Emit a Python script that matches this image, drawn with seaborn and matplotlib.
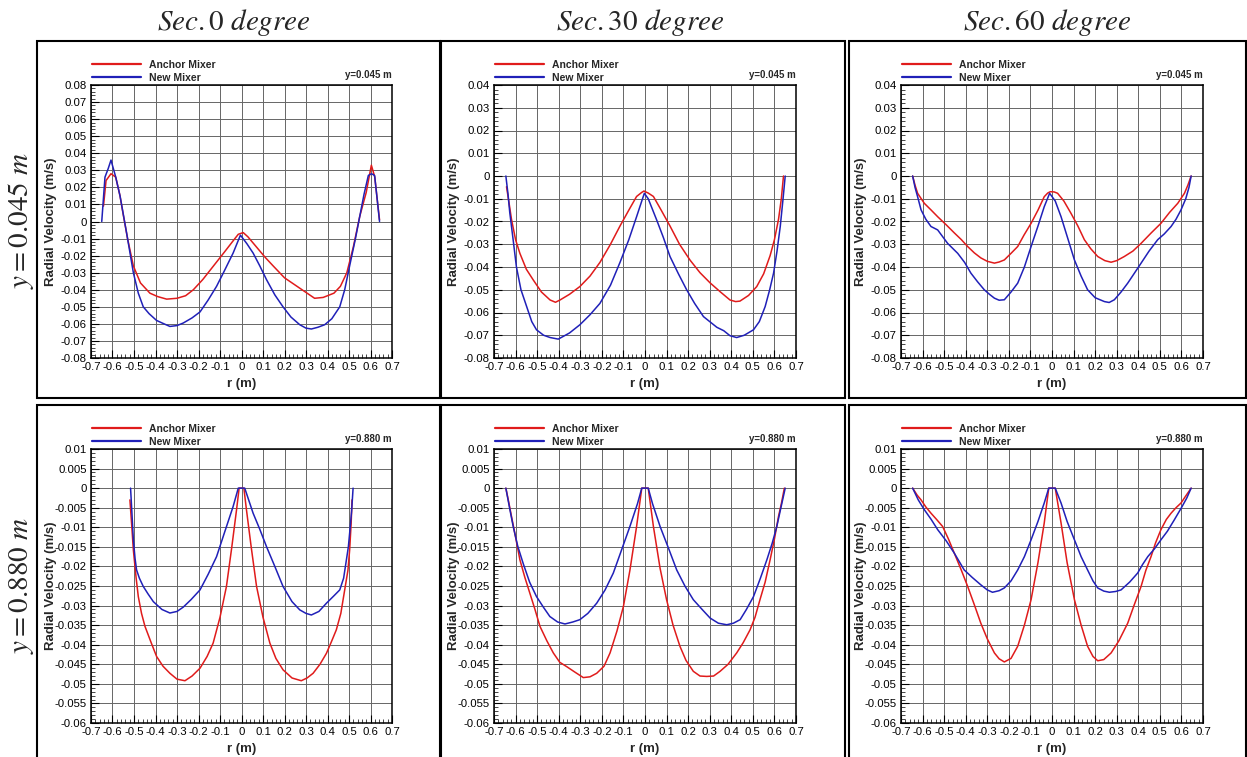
import numpy as np
import matplotlib
matplotlib.use('Agg')
import matplotlib.pyplot as plt
from matplotlib.patches import Rectangle
from matplotlib.ticker import MultipleLocator, FuncFormatter
import seaborn as sns

# ---------------------------------------------------------------------------
# Data (radial velocity profiles, m/s vs r, m)
# Row 1: y = 0.045 m, Row 2: y = 0.880 m ; columns: Sec. 0 / 30 / 60 degree
# ---------------------------------------------------------------------------

# Sec 0, y=0.045
r_anchor_s0_045 = [-0.642, -0.63, -0.607, -0.585, -0.565, -0.55, -0.53, -0.503, -0.47, -0.426, -0.39, -0.348, -0.3,
                   -0.26, -0.224, -0.18, -0.13, -0.08, -0.04, -0.015, 0.008, 0.03, 0.07, 0.11, 0.147, 0.2, 0.27,
                   0.34, 0.38, 0.43, 0.46, 0.49, 0.52, 0.55, 0.58, 0.604, 0.62, 0.632, 0.642]
v_anchor_s0_045 = [0.009, 0.024, 0.028, 0.026, 0.015, 0.004, -0.01, -0.026, -0.036, -0.042, -0.044, -0.0455, -0.045,
                   -0.0435, -0.040, -0.034, -0.026, -0.018, -0.0115, -0.0075, -0.0065, -0.009, -0.015, -0.021,
                   -0.026, -0.033, -0.039, -0.045, -0.0445, -0.042, -0.038, -0.030, -0.015, 0.003, 0.017, 0.033,
                   0.026, 0.012, 0.001]
r_new_s0_045 = [-0.65, -0.635, -0.62, -0.607, -0.585, -0.565, -0.534, -0.503, -0.48, -0.457, -0.43, -0.395, -0.36,
                -0.333, -0.3, -0.271, -0.23, -0.193, -0.155, -0.116, -0.08, -0.039, -0.005, 0.025, 0.054, 0.085,
                0.116, 0.155, 0.193, 0.23, 0.271, 0.3, 0.325, 0.355, 0.387, 0.42, 0.457, 0.48, 0.503, 0.53, 0.55,
                0.57, 0.59, 0.605, 0.619, 0.632, 0.642]
v_new_s0_045 = [0.0, 0.026, 0.031, 0.036, 0.026, 0.015, -0.007, -0.030, -0.042, -0.050, -0.054, -0.058, -0.060,
                -0.0615, -0.061, -0.0595, -0.0565, -0.053, -0.046, -0.038, -0.029, -0.0185, -0.008, -0.013,
                -0.0185, -0.026, -0.034, -0.043, -0.050, -0.056, -0.0605, -0.0625, -0.063, -0.062, -0.0605,
                -0.057, -0.050, -0.040, -0.026, -0.010, 0.003, 0.016, 0.027, 0.028, 0.027, 0.012, 0.0]

# Sec 30, y=0.045
r_anchor_s30_045 = [-0.642, -0.63, -0.619, -0.6, -0.58, -0.55, -0.518, -0.48, -0.44, -0.415, -0.394, -0.35, -0.302,
                    -0.255, -0.209, -0.16, -0.116, -0.075, -0.039, -0.015, -0.005, 0.015, 0.039, 0.075, 0.116, 0.16,
                    0.209, 0.255, 0.302, 0.35, 0.394, 0.42, 0.44, 0.48, 0.518, 0.55, 0.58, 0.6, 0.619, 0.632, 0.642]
v_anchor_s30_045 = [-0.0047, -0.012, -0.019, -0.028, -0.034, -0.041, -0.0457, -0.051, -0.0545, -0.0555, -0.0545,
                    -0.052, -0.0486, -0.044, -0.038, -0.030, -0.022, -0.015, -0.009, -0.0072, -0.0066, -0.0075,
                    -0.009, -0.015, -0.022, -0.030, -0.037, -0.0425, -0.047, -0.051, -0.0545, -0.0552, -0.055,
                    -0.0525, -0.0486, -0.043, -0.035, -0.028, -0.019, -0.010, 0.0]
r_new_s30_045 = [-0.645, -0.635, -0.627, -0.61, -0.596, -0.575, -0.55, -0.525, -0.503, -0.47, -0.44, -0.402, -0.35,
                 -0.302, -0.255, -0.209, -0.16, -0.116, -0.075, -0.039, -0.015, -0.003, 0.015, 0.054, 0.085, 0.116,
                 0.155, 0.193, 0.23, 0.271, 0.3, 0.333, 0.365, 0.394, 0.425, 0.46, 0.503, 0.53, 0.557, 0.578,
                 0.596, 0.612, 0.627, 0.64, 0.65]
v_new_s30_045 = [0.0, -0.008, -0.016, -0.029, -0.040, -0.050, -0.057, -0.064, -0.0676, -0.070, -0.071, -0.0717,
                 -0.069, -0.0654, -0.061, -0.056, -0.048, -0.038, -0.028, -0.0179, -0.011, -0.0076, -0.010,
                 -0.0193, -0.027, -0.0354, -0.043, -0.050, -0.056, -0.0618, -0.064, -0.0665, -0.068, -0.0702,
                 -0.071, -0.070, -0.0676, -0.064, -0.0574, -0.050, -0.0427, -0.033, -0.0222, -0.010, 0.0]

# Sec 60, y=0.045
r_anchor_s60_045 = [-0.646, -0.635, -0.623, -0.592, -0.56, -0.53, -0.49, -0.453, -0.42, -0.391, -0.36, -0.33, -0.3,
                    -0.267, -0.245, -0.221, -0.19, -0.159, -0.13, -0.097, -0.065, -0.036, -0.02, -0.008, 0.01,
                    0.026, 0.055, 0.088, 0.12, 0.15, 0.18, 0.212, 0.245, 0.274, 0.3, 0.335, 0.375, 0.413, 0.46,
                    0.505, 0.545, 0.583, 0.614, 0.63, 0.645]
v_anchor_s60_045 = [0.0, -0.004, -0.0076, -0.012, -0.015, -0.0179, -0.0215, -0.025, -0.028, -0.031, -0.0338, -0.036,
                    -0.0375, -0.0383, -0.0378, -0.0369, -0.034, -0.031, -0.026, -0.0208, -0.015, -0.0091, -0.0075,
                    -0.0069, -0.007, -0.0076, -0.011, -0.0164, -0.022, -0.028, -0.032, -0.0354, -0.0372, -0.0379,
                    -0.0372, -0.0354, -0.033, -0.0296, -0.025, -0.0208, -0.016, -0.012, -0.0076, -0.004, 0.0]
r_new_s60_045 = [-0.646, -0.635, -0.623, -0.607, -0.585, -0.561, -0.53, -0.484, -0.437, -0.405, -0.376, -0.345,
                 -0.314, -0.29, -0.267, -0.245, -0.221, -0.19, -0.159, -0.128, -0.097, -0.065, -0.036, -0.011,
                 0.015, 0.042, 0.075, 0.104, 0.135, 0.165, 0.2, 0.243, 0.265, 0.289, 0.32, 0.351, 0.38, 0.413,
                 0.45, 0.49, 0.52, 0.552, 0.575, 0.598, 0.62, 0.635, 0.645]
v_new_s60_045 = [0.0, -0.005, -0.0091, -0.0149, -0.019, -0.0222, -0.0237, -0.0296, -0.034, -0.038, -0.0427,
                 -0.0465, -0.050, -0.052, -0.0537, -0.0546, -0.0544, -0.051, -0.0471, -0.040, -0.031, -0.022,
                 -0.0135, -0.0076, -0.011, -0.0179, -0.028, -0.0369, -0.044, -0.050, -0.0535, -0.0552, -0.0556,
                 -0.0544, -0.051, -0.0471, -0.043, -0.0383, -0.033, -0.028, -0.0255, -0.0222, -0.019, -0.0149,
                 -0.010, -0.005, 0.0]

# Sec 0, y=0.880
r_anchor_s0_880 = [-0.519, -0.51, -0.503, -0.49, -0.48, -0.465, -0.449, -0.42, -0.395, -0.365, -0.333, -0.3, -0.263,
                   -0.23, -0.193, -0.16, -0.132, -0.1, -0.07, -0.045, -0.023, -0.011, 0.011, 0.023, 0.045, 0.07,
                   0.1, 0.132, 0.16, 0.193, 0.235, 0.278, 0.305, 0.333, 0.365, 0.395, 0.42, 0.441, 0.462, 0.48,
                   0.495, 0.503, 0.51, 0.514]
v_anchor_s0_880 = [-0.003, -0.010, -0.0158, -0.023, -0.0277, -0.032, -0.0353, -0.0395, -0.043, -0.0455, -0.0473,
                   -0.0488, -0.0492, -0.048, -0.046, -0.043, -0.0396, -0.033, -0.0251, -0.015, -0.0055, 0.0, 0.0,
                   -0.0055, -0.015, -0.0251, -0.033, -0.0396, -0.0435, -0.0464, -0.0485, -0.0492, -0.0485,
                   -0.0473, -0.045, -0.0422, -0.039, -0.0362, -0.032, -0.026, -0.021, -0.0158, -0.009, -0.003]
r_new_s0_880 = [-0.516, -0.51, -0.503, -0.495, -0.488, -0.475, -0.457, -0.435, -0.41, -0.37, -0.333, -0.3, -0.271,
                -0.235, -0.193, -0.155, -0.116, -0.08, -0.039, -0.015, 0.015, 0.054, 0.085, 0.116, 0.155, 0.193,
                0.235, 0.271, 0.3, 0.325, 0.36, 0.395, 0.43, 0.457, 0.475, 0.488, 0.497, 0.503, 0.512, 0.519]
v_new_s0_880 = [0.0, -0.006, -0.0132, -0.018, -0.0209, -0.023, -0.0251, -0.027, -0.029, -0.031, -0.0319, -0.0315,
                -0.0304, -0.0285, -0.026, -0.022, -0.0175, -0.0115, -0.0047, 0.0, 0.0, -0.0064, -0.0105,
                -0.0149, -0.020, -0.0251, -0.029, -0.0311, -0.032, -0.0324, -0.0315, -0.0294, -0.0275, -0.026,
                -0.023, -0.0183, -0.015, -0.0115, -0.006, 0.0]

# Sec 30, y=0.880
r_anchor_s30_880 = [-0.645, -0.632, -0.619, -0.6, -0.58, -0.557, -0.534, -0.51, -0.487, -0.455, -0.425, -0.395,
                    -0.363, -0.325, -0.286, -0.255, -0.224, -0.19, -0.162, -0.13, -0.1, -0.07, -0.039, -0.015,
                    0.015, 0.039, 0.07, 0.1, 0.13, 0.162, 0.19, 0.224, 0.255, 0.286, 0.318, 0.348, 0.385, 0.425,
                    0.455, 0.487, 0.51, 0.533, 0.557, 0.58, 0.6, 0.619, 0.632, 0.646]
v_anchor_s30_880 = [0.0, -0.0035, -0.0072, -0.0125, -0.0183, -0.0228, -0.0268, -0.031, -0.0353, -0.039, -0.0421,
                    -0.0445, -0.0456, -0.047, -0.0484, -0.0482, -0.0473, -0.0455, -0.0421, -0.0365, -0.0302,
                    -0.021, -0.0098, 0.0, 0.0, -0.0098, -0.0205, -0.0285, -0.035, -0.0404, -0.044, -0.0468,
                    -0.048, -0.0481, -0.048, -0.0468, -0.045, -0.0421, -0.0395, -0.0362, -0.033, -0.0285, -0.024,
                    -0.0183, -0.013, -0.0072, -0.004, 0.0]
r_new_s30_880 = [-0.645, -0.628, -0.611, -0.59, -0.565, -0.535, -0.503, -0.47, -0.441, -0.405, -0.371, -0.335,
                 -0.302, -0.265, -0.224, -0.185, -0.147, -0.11, -0.07, -0.035, -0.015, 0.015, 0.035, 0.07, 0.11,
                 0.147, 0.185, 0.224, 0.265, 0.302, 0.34, 0.379, 0.41, 0.441, 0.47, 0.503, 0.535, 0.565, 0.59,
                 0.611, 0.63, 0.65]
v_new_s30_880 = [0.0, -0.005, -0.0098, -0.0148, -0.0192, -0.024, -0.0277, -0.0305, -0.0328, -0.0342, -0.0347,
                 -0.0342, -0.0336, -0.032, -0.0294, -0.026, -0.0217, -0.016, -0.0098, -0.004, 0.0, 0.0, -0.004,
                 -0.0098, -0.0155, -0.0209, -0.025, -0.0285, -0.031, -0.0332, -0.0345, -0.0349, -0.0345,
                 -0.0336, -0.031, -0.0277, -0.023, -0.0183, -0.014, -0.0098, -0.005, 0.0]

# Sec 60, y=0.880
r_anchor_s60_880 = [-0.646, -0.625, -0.607, -0.585, -0.561, -0.535, -0.507, -0.48, -0.453, -0.42, -0.391, -0.36,
                    -0.33, -0.3, -0.267, -0.245, -0.221, -0.19, -0.159, -0.128, -0.097, -0.065, -0.036, -0.015,
                    0.015, 0.042, 0.07, 0.104, 0.135, 0.165, 0.19, 0.212, 0.24, 0.274, 0.31, 0.351, 0.38, 0.413,
                    0.435, 0.459, 0.48, 0.505, 0.53, 0.552, 0.575, 0.598, 0.62, 0.645]
v_anchor_s60_880 = [0.0, -0.0018, -0.003, -0.0048, -0.0064, -0.008, -0.0098, -0.013, -0.0166, -0.021, -0.0251,
                    -0.0298, -0.0345, -0.0385, -0.0421, -0.0436, -0.0444, -0.0435, -0.0404, -0.035, -0.0285,
                    -0.019, -0.0089, 0.0, 0.0, -0.0089, -0.019, -0.0285, -0.035, -0.0404, -0.043, -0.0441,
                    -0.0438, -0.0421, -0.039, -0.0345, -0.030, -0.0251, -0.021, -0.0175, -0.014, -0.0106, -0.008,
                    -0.0064, -0.005, -0.0038, -0.002, 0.0]
r_new_s60_880 = [-0.646, -0.62, -0.592, -0.56, -0.53, -0.49, -0.453, -0.407, -0.37, -0.33, -0.3, -0.276, -0.245,
                 -0.221, -0.19, -0.159, -0.128, -0.097, -0.065, -0.036, -0.015, 0.015, 0.042, 0.07, 0.104, 0.135,
                 0.165, 0.19, 0.212, 0.24, 0.266, 0.295, 0.32, 0.36, 0.397, 0.42, 0.444, 0.475, 0.505, 0.535,
                 0.567, 0.6, 0.625, 0.645]
v_new_s60_880 = [0.0, -0.003, -0.0055, -0.008, -0.0106, -0.0135, -0.0166, -0.0209, -0.0228, -0.0247, -0.026,
                 -0.0266, -0.0262, -0.0255, -0.0237, -0.0209, -0.0175, -0.0132, -0.0085, -0.0038, 0.0, 0.0,
                 -0.0038, -0.0085, -0.0132, -0.0175, -0.0209, -0.0237, -0.0255, -0.0263, -0.0266, -0.0264,
                 -0.026, -0.024, -0.0217, -0.0195, -0.0175, -0.0155, -0.0132, -0.011, -0.0081, -0.005, -0.0025,
                 0.0]

col_titles = [r'$Sec.0\ degree$', r'$Sec.30\ degree$', r'$Sec.60\ degree$']
row_titles = [r'$y=0.045\ m$', r'$y=0.880\ m$']
station_labels = ['y=0.045 m', 'y=0.880 m']
series_names = ['Anchor Mixer', 'New Mixer']

panels = [
    [(r_anchor_s0_045, v_anchor_s0_045, r_new_s0_045, v_new_s0_045),
     (r_anchor_s30_045, v_anchor_s30_045, r_new_s30_045, v_new_s30_045),
     (r_anchor_s60_045, v_anchor_s60_045, r_new_s60_045, v_new_s60_045)],
    [(r_anchor_s0_880, v_anchor_s0_880, r_new_s0_880, v_new_s0_880),
     (r_anchor_s30_880, v_anchor_s30_880, r_new_s30_880, v_new_s30_880),
     (r_anchor_s60_880, v_anchor_s60_880, r_new_s60_880, v_new_s60_880)],
]

# y ranges per panel (ymin, ymax, major step, minor step)
yranges = [
    [(-0.08, 0.08, 0.01, 0.002), (-0.08, 0.04, 0.01, 0.002), (-0.08, 0.04, 0.01, 0.002)],
    [(-0.06, 0.01, 0.005, 0.001), (-0.06, 0.01, 0.005, 0.001), (-0.06, 0.01, 0.005, 0.001)],
]

RED = '#e01b1b'
BLUE = '#2020b8'

sns.set_theme(style='white')
plt.rcParams['font.family'] = ['Liberation Sans', 'DejaVu Sans']
plt.rcParams['mathtext.fontset'] = 'stix'
plt.rcParams['axes.unicode_minus'] = False

W, H = 1247, 757
fig = plt.figure(figsize=(W / 100, H / 100), dpi=100)


def fx(px):
    return px / W


def fy(py):
    return 1 - py / H


# axes positions in pixels: (left, right) and (top, bottom)
col_px = [(91, 392), (494, 796), (901, 1203)]
row_px = [(85, 358), (449, 723)]

fmt = FuncFormatter(lambda v, p: '%g' % round(v, 4))

for i in range(2):
    for j in range(3):
        l, rgt = col_px[j]
        t, b = row_px[i]
        ax = fig.add_axes([fx(l), fy(b), (rgt - l) / W, (b - t) / H])
        ra, va, rn, vn = panels[i][j]
        sns.lineplot(x=ra, y=va, ax=ax, color=RED, lw=1.1, estimator=None, sort=False, label=series_names[0])
        sns.lineplot(x=rn, y=vn, ax=ax, color=BLUE, lw=1.1, estimator=None, sort=False, label=series_names[1])

        ymin, ymax, ymaj, ymin_step = yranges[i][j]
        ax.set_xlim(-0.7, 0.7)
        ax.set_ylim(ymin, ymax)
        ax.xaxis.set_major_locator(MultipleLocator(0.1))
        ax.xaxis.set_minor_locator(MultipleLocator(0.02))
        ax.yaxis.set_major_locator(MultipleLocator(ymaj))
        ax.yaxis.set_minor_locator(MultipleLocator(ymin_step))
        ax.xaxis.set_major_formatter(fmt)
        ax.yaxis.set_major_formatter(fmt)
        ax.tick_params(which='major', direction='in', length=6, width=0.8, labelsize=8.2, pad=3,
                       colors='black', top=False, right=False)
        ax.tick_params(which='minor', direction='in', length=3, width=0.6, top=False, right=False)
        ax.tick_params(axis='both', which='both', left=True, bottom=True)
        ax.grid(True, which='major', color='#666666', lw=0.7)
        for s in ax.spines.values():
            s.set_color('black')
            s.set_linewidth(1.1)

        ax.set_xlabel('r (m)', fontsize=9.5, fontweight='bold')
        ax.set_ylabel('Radial Velocity (m/s)', fontsize=9.5, fontweight='bold')
        ax.xaxis.set_label_coords(0.5, -20 / (b - t))
        ax.yaxis.set_label_coords(-34 / (rgt - l), 0.5)

        leg = ax.legend(loc='lower left', bbox_to_anchor=(0, 1.005), frameon=False, borderaxespad=0,
                        borderpad=0.1, handlelength=4.7, handletextpad=0.75, labelspacing=0.25,
                        prop={'weight': 'bold', 'size': 7.5})
        for h in leg.get_lines():
            h.set_linewidth(1.6)
        ax.text(1.0, 1.02, station_labels[i], transform=ax.transAxes, ha='right', va='bottom',
                fontsize=7, fontweight='bold')

# panel frames
frames_x = [(37, 440), (441, 845), (849, 1246)]
frames_y = [(41, 398), (405, 770)]
for (y0, y1) in frames_y:
    for (x0, x1) in frames_x:
        fig.add_artist(Rectangle((fx(x0), fy(y1)), (x1 - x0) / W, (y1 - y0) / H, transform=fig.transFigure,
                                 fill=False, edgecolor='black', lw=1.5, clip_on=False))

# column and row titles
for cx, title in zip([234, 640, 1047], col_titles):
    fig.text(fx(cx), fy(22), title, ha='center', va='center', fontsize=21)
for cy, title in zip([220, 585], row_titles):
    fig.text(fx(21), fy(cy), title, ha='center', va='center', rotation=90, fontsize=21)

fig.savefig('out.png', dpi=100)
